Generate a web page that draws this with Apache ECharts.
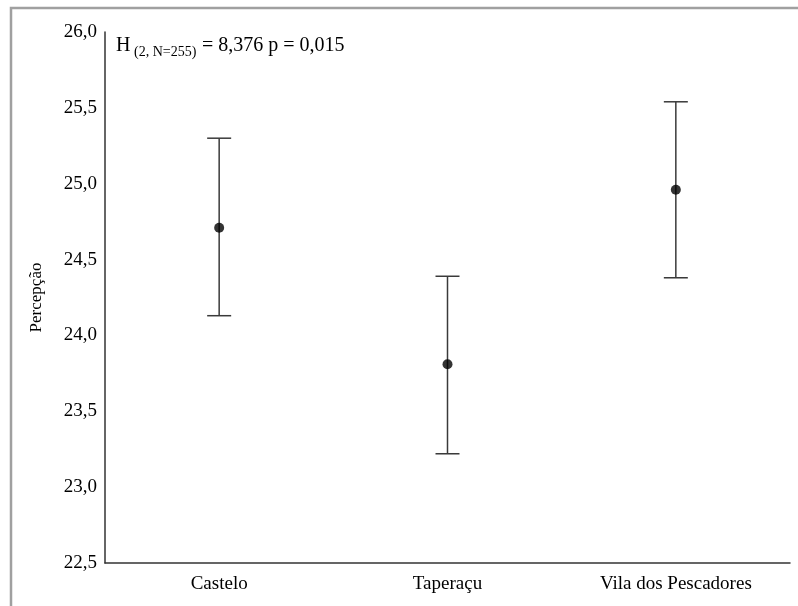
<!DOCTYPE html>
<html>
<head>
<meta charset="utf-8">
<script src="https://cdn.jsdelivr.net/npm/echarts@6/dist/echarts.min.js"></script>
<style>html,body{margin:0;padding:0;background:#fff}#c{width:798px;height:606px}</style>
</head>
<body>
<div id="c"></div>
<script>
const categories = ['Castelo', 'Taperaçu', 'Vila dos Pescadores'];
const means = [24.71, 23.81, 24.96];
const lower = [24.13, 23.22, 24.38];
const upper = [25.30, 24.39, 25.54];
const yTicks = [22.5, 23.0, 23.5, 24.0, 24.5, 25.0, 25.5, 26.0];

const serif = '"Liberation Serif", "Times New Roman", serif';
const chart = echarts.init(document.getElementById('c'), null, {renderer: 'canvas'});

const errData = categories.map((c, i) => [i, lower[i], upper[i]]);

chart.setOption({
  animation: false,
  backgroundColor: '#fff',
  grid: {left: 105, top: 32, right: 8, bottom: 43, containLabel: false},
  xAxis: {
    type: 'category',
    data: categories,
    boundaryGap: true,
    axisLine: {show: true, lineStyle: {color: '#333', width: 1.5}},
    axisTick: {show: false},
    axisLabel: {color: '#000', fontFamily: serif, fontSize: 19, margin: 12}
  },
  yAxis: {
    type: 'value',
    min: yTicks[0],
    max: yTicks[yTicks.length - 1],
    interval: 0.5,
    name: 'Percepção',
    nameLocation: 'middle',
    nameGap: 60,
    nameRotate: 90,
    nameTextStyle: {color: '#000', fontFamily: serif, fontSize: 17},
    axisLine: {show: true, lineStyle: {color: '#333', width: 1.5}},
    axisTick: {show: false},
    splitLine: {show: false},
    axisLabel: {
      color: '#000', fontFamily: serif, fontSize: 19, margin: 8,
      formatter: v => v.toFixed(1).replace('.', ',')
    }
  },
  series: [
    {
      type: 'custom',
      data: errData,
      renderItem: function (params, api) {
        const x = api.value(0);
        const lo = api.coord([x, api.value(1)]);
        const hi = api.coord([x, api.value(2)]);
        const hw = 12;
        const style = {stroke: '#3a3a3a', lineWidth: 1.5};
        return {
          type: 'group',
          children: [
            {type: 'line', shape: {x1: lo[0], y1: lo[1], x2: hi[0], y2: hi[1]}, style: style},
            {type: 'line', shape: {x1: lo[0] - hw, y1: lo[1], x2: lo[0] + hw, y2: lo[1]}, style: style},
            {type: 'line', shape: {x1: hi[0] - hw, y1: hi[1], x2: hi[0] + hw, y2: hi[1]}, style: style}
          ]
        };
      },
      z: 2
    },
    {
      type: 'scatter',
      data: means,
      symbol: 'circle',
      symbolSize: 10,
      itemStyle: {color: '#000'},
      z: 3
    }
  ],
  graphic: [
    {type: 'rect', left: 8.5, top: 5.5, shape: {x: 0, y: 0, width: 820, height: 620},
     style: {fill: 'none', stroke: '#a0a0a0', lineWidth: 2.5}, silent: true},
    {type: 'text', left: 116, top: 36, style: {text: 'H', font: '20px ' + serif, fill: '#000'}},
    {type: 'text', left: 134, top: 45, style: {text: '(2, N=255)', font: '14px ' + serif, fill: '#000'}},
    {type: 'text', left: 202, top: 36, style: {text: '= 8,376 p = 0,015', font: '20px ' + serif, fill: '#000'}}
  ]
});
</script>
</body>
</html>
